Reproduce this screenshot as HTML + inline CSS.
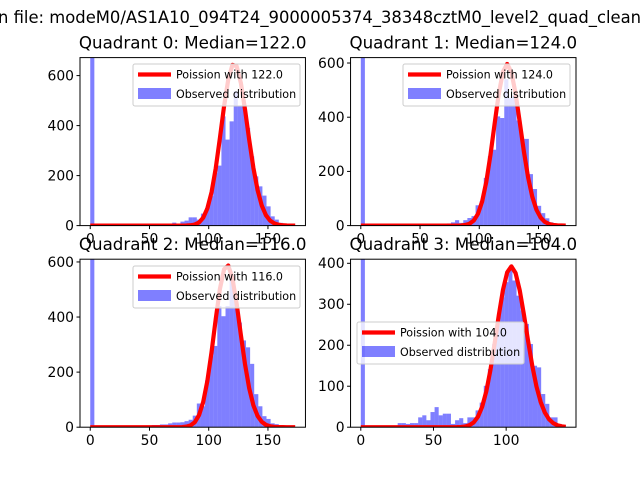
<!DOCTYPE html>
<html><head><meta charset="utf-8"><style>
html,body{margin:0;padding:0;background:#fff;}
svg{display:block;font-family:"DejaVu Sans","Liberation Sans",sans-serif;}
</style></head><body>
<svg id="chart" width="640" height="480" viewBox="0 0 640 480" xmlns="http://www.w3.org/2000/svg">
<rect width="640" height="480" fill="#fff"/>
<text x="-2" y="23" font-size="16.4" fill="#000">n file: modeM0/AS1A10_094T24_9000005374_38348cztM0_level2_quad_clean.evt</text>
</svg>
<script>
const quadrantNames = ["Quadrant 0", "Quadrant 1", "Quadrant 2", "Quadrant 3"];
const medians = [122.0, 124.0, 116.0, 104.0];
const dataMax = [173, 173, 173, 141];
const yMax = [672, 620, 610, 410];
const curvePeaks = [648, 596, 589, 392];
const yTicks0 = [0, 200, 400, 600];
const yTicks1 = [0, 200, 400, 600];
const yTicks2 = [0, 200, 400, 600];
const yTicks3 = [0, 100, 200, 300, 400];
const xTicks0 = [0, 50, 100, 150];
const xTicks1 = [0, 50, 100, 150];
const xTicks2 = [0, 50, 100, 150];
const xTicks3 = [0, 50, 100];
const counts0 = [2000,0,0,0,0,0,0,0,0,0,0,0,0,0,0,0,0,0,0,0,12,8,16,20,33,33,24,48,71,118,211,240,437,344,417,537,477,491,391,277,197,157,120,77,37,24,11,4,3,2];
const counts1 = [2000,0,0,0,0,0,0,0,0,0,0,0,0,0,0,0,0,0,0,0,0,8,12,20,10,20,28,35,75,90,176,256,280,403,397,540,472,480,388,320,320,190,135,73,46,27,12,5,3,2];
const counts2 = [2000,0,0,0,0,0,0,0,0,0,0,0,0,0,6,8,8,10,10,14,17,17,18,22,27,42,86,76,170,258,295,440,403,440,550,460,380,315,290,230,120,76,40,30,14,11,4,3,2,1];
const counts3 = [2000,0,0,0,0,0,0,0,0,10,10,8,10,10,24,29,17,37,49,29,33,33,8,17,22,10,24,24,41,60,101,142,203,260,317,354,386,358,321,285,252,203,150,146,81,57,24,24,8,3];

const NS = "http://www.w3.org/2000/svg";
const svg = document.getElementById("chart");
function mk(tag, attrs, parent) {
  const e = document.createElementNS(NS, tag);
  for (const k in attrs) e.setAttribute(k, attrs[k]);
  (parent || svg).appendChild(e);
  return e;
}
const W = 225.45, H = 168;
const lefts = [80, 350.55, 80, 350.55];
const tops = [57.6, 57.6, 259.2, 259.2];
const legendPos = [[133, 64], [403, 64], [133, 266], [357, 322]];
const allCounts = [counts0, counts1, counts2, counts3];
const allYT = [yTicks0, yTicks1, yTicks2, yTicks3];
const allXT = [xTicks0, xTicks1, xTicks2, xTicks3];

function lnFact(k) {
  if (k < 1) return 0;
  return k * Math.log(k) - k + 0.5 * Math.log(2 * Math.PI * k) + 1 / (12 * k);
}

for (let q = 0; q < 4; q++) {
  const L = lefts[q], T = tops[q];
  const xmax = dataMax[q];
  const x0 = -0.05 * xmax, x1 = 1.05 * xmax;
  const xs = v => L + (v - x0) / (x1 - x0) * W;
  const ys = v => T + H - v / yMax[q] * H;
  const g = mk("g", {});
  
  
  const clipId = "clip" + q;
  const cp = mk("clipPath", {id: clipId}, g);
  mk("rect", {x: L, y: T, width: W, height: H}, cp);
  const plot = mk("g", {"clip-path": "url(#" + clipId + ")"}, g);
  const counts = allCounts[q];
  const bw = xmax / counts.length;
  counts.forEach((c, i) => {
    if (c <= 0) return;
    const xa = xs(i * bw), xb = xs((i + 1) * bw);
    const r = mk("rect", {x: xa, y: ys(c), width: xb - xa, height: ys(0) - ys(c), fill: "#0000ff", "fill-opacity": 0.5}, plot);
    
    
  });
  const lam = medians[q];
  const fl = lam * Math.log(lam) - lam - lnFact(lam);
  let d = "";
  for (let i = 0; i < 50; i++) {
    const k = xmax * i / 49;
    const f = (k > 0 ? k * Math.log(lam) : 0) - lam - lnFact(k);
    const v = curvePeaks[q] * Math.exp(f - fl);
    d += (i ? "L" : "M") + xs(k).toFixed(2) + "," + ys(v).toFixed(2);
  }
  const path = mk("path", {d: d, fill: "none", stroke: "#ff0000", "stroke-width": 4.2, "stroke-linejoin": "round"}, plot);
  
  
  const fr = mk("rect", {x: L, y: T, width: W, height: H, fill: "none", stroke: "#000", "stroke-width": 1}, g);
  
  
  allYT[q].forEach(t => {
    const y = ys(t);
    mk("line", {x1: L - 3.5, x2: L, y1: y, y2: y, stroke: "#000", "stroke-width": 1}, g);
    const tx = mk("text", {x: L - 6, y: y + 4.8, "font-size": 13.9, "text-anchor": "end"}, g);
    tx.textContent = t;
    
    
  });
  allXT[q].forEach(t => {
    const x = xs(t);
    mk("line", {x1: x, x2: x, y1: T + H, y2: T + H + 3.5, stroke: "#000", "stroke-width": 1}, g);
    const tx = mk("text", {x: x, y: T + H + 18, "font-size": 13.9, "text-anchor": "middle"}, g);
    tx.textContent = t;
    
    
  });
  const tt = mk("text", {x: L + W / 2, y: T - 9, "font-size": 16.67, "text-anchor": "middle"}, g);
  tt.textContent = quadrantNames[q] + ": Median=" + medians[q].toFixed(1);
  
  
  const [lx, ly] = legendPos[q];
  const lg = mk("g", {}, g);
  
  
  mk("rect", {x: lx, y: ly, width: 167, height: 42, rx: 2, fill: "#fff", "fill-opacity": 0.8, stroke: "#cccccc", "stroke-width": 1}, lg);
  mk("line", {x1: lx + 5, x2: lx + 38, y1: ly + 10.5, y2: ly + 10.5, stroke: "#ff0000", "stroke-width": 4.2}, lg);
  const t1 = mk("text", {x: lx + 43, y: ly + 14.5, "font-size": 11.1}, lg);
  t1.textContent = "Poission with " + medians[q].toFixed(1);
  
  
  mk("rect", {x: lx + 5, y: ly + 24, width: 33, height: 11, fill: "#0000ff", "fill-opacity": 0.5}, lg);
  const t2 = mk("text", {x: lx + 43, y: ly + 34, "font-size": 11.1}, lg);
  t2.textContent = "Observed distribution";
  
  
}
</script>
</body></html>
